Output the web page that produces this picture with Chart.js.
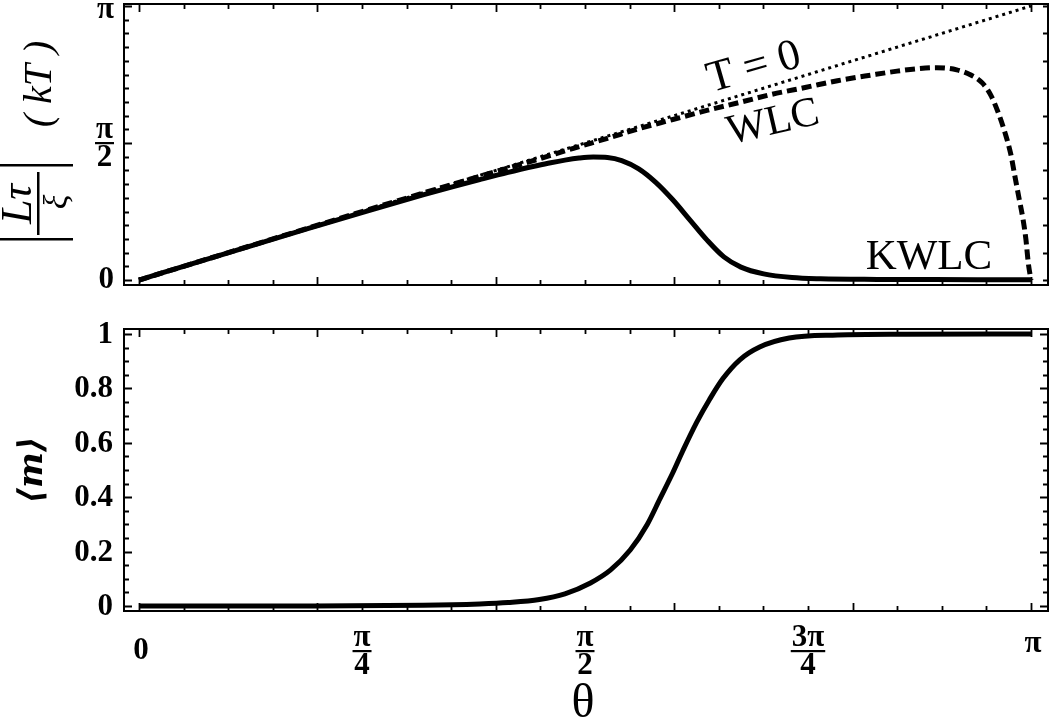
<!DOCTYPE html>
<html><head><meta charset="utf-8">
<script src="https://cdn.jsdelivr.net/npm/chart.js@4.4.1/dist/chart.umd.min.js"></script>
<style>
html,body{margin:0;padding:0;background:#fff;width:1050px;height:724px;overflow:hidden}
canvas{position:absolute;left:0;top:0}
</style></head><body>
<canvas id="topChart" width="1050" height="724"></canvas>
<canvas id="botChart" width="1050" height="724"></canvas>
<script>
const PI = Math.PI;
// ---- data ----
const tzeroTheta = [0, 3.1416];
const tzeroValue = [0, 3.1416];
const wlcTheta = [0, 0.4, 0.8, 1.0, 1.2, 1.4, 1.53, 1.65, 1.76, 1.88, 2.0, 2.12, 2.23, 2.35, 2.46, 2.58, 2.67, 2.75, 2.81, 2.88, 2.93, 2.97, 3.0, 3.025, 3.05, 3.07, 3.085, 3.1, 3.114, 3.124, 3.132, 3.1416];
const wlcValue = [0, 0.4, 0.799, 0.996, 1.19, 1.38, 1.51, 1.625, 1.735, 1.84, 1.945, 2.04, 2.13, 2.21, 2.285, 2.35, 2.395, 2.425, 2.435, 2.41, 2.35, 2.26, 2.12, 1.93, 1.69, 1.45, 1.19, 0.93, 0.69, 0.46, 0.2, 0];
const kwlcTheta = [0, 0.2, 0.4, 0.6, 0.8, 1.0, 1.1, 1.2, 1.3, 1.4, 1.45, 1.5, 1.55, 1.6, 1.65, 1.7, 1.76, 1.82, 1.88, 1.94, 2.0, 2.06, 2.12, 2.2, 2.3, 2.4, 2.6, 2.8, 3.0, 3.1416];
const kwlcValue = [0, 0.2, 0.398, 0.594, 0.788, 0.976, 1.066, 1.152, 1.235, 1.31, 1.345, 1.375, 1.398, 1.41, 1.405, 1.37, 1.275, 1.12, 0.92, 0.69, 0.46, 0.265, 0.148, 0.07, 0.028, 0.014, 0.007, 0.005, 0.004, 0.004];
const mTheta = [0, 0.5, 1.0, 1.2, 1.3, 1.41, 1.5, 1.59, 1.66, 1.73, 1.79, 1.835, 1.88, 1.915, 1.964, 2.01, 2.056, 2.116, 2.186, 2.29, 2.46, 2.7, 3.1416];
const mValue = [0, 0.0005, 0.003, 0.008, 0.013, 0.024, 0.045, 0.085, 0.132, 0.206, 0.3, 0.395, 0.49, 0.57, 0.675, 0.76, 0.835, 0.905, 0.952, 0.985, 0.996, 0.999, 1.0];

const xTickValues = [0, PI/4, PI/2, 3*PI/4, PI];
const xTickLabels = ['0', 'π/4', 'π/2', '3π/4', 'π'];
const topYTickValues = [0, PI/2, PI];
const topYTickLabels = ['0', 'π/2', 'π'];
const botYTickValues = [0, 0.2, 0.4, 0.6, 0.8, 1];
const botYTickLabels = ['0', '0.2', '0.4', '0.6', '0.8', '1'];
const seriesNames = ['T = 0', 'WLC', 'KWLC'];

const pts = (xs, ys) => xs.map((x, i) => ({x, y: ys[i]}));
const SERIF = '"Liberation Serif", "DejaVu Serif", serif';
const TICKFONT = 'bold 31px ' + SERIF;

function drawLabel(ctx, text, cx, cy, align, off) {
  ctx.fillStyle = '#000';
  ctx.textBaseline = 'middle';
  if (text.includes('/')) {
    const [n, d] = text.split('/');
    const w = Math.max(ctx.measureText(n).width, ctx.measureText(d).width);
    let c = cx;
    if (align === 'right') c = cx - w / 2;
    ctx.textAlign = 'center';
    ctx.fillText(n, c, cy - off);
    ctx.fillText(d, c, cy + off + 2);
    ctx.fillRect(c - w / 2 - 1, cy - 1, w + 2, 2.2);
  } else {
    ctx.textAlign = align;
    ctx.fillText(text, cx, cy);
  }
}
function rotText(ctx, text, cx, cy, ang, font) {
  ctx.save();
  ctx.translate(cx, cy); ctx.rotate(ang);
  ctx.font = font; ctx.fillStyle = '#000';
  ctx.textAlign = 'center'; ctx.textBaseline = 'middle';
  ctx.fillText(text, 0, 0);
  ctx.restore();
}
function frameAndTicks(chart, xT, yL, yR) {
  const {ctx, chartArea: a, scales: {x, y}} = chart;
  ctx.save();
  ctx.strokeStyle = '#000';
  ctx.lineWidth = 2;
  ctx.strokeRect(a.left, a.top, a.right - a.left, a.bottom - a.top);
  ctx.lineWidth = 1.8;
  ctx.beginPath();
  xT.forEach(t => {
    const p = Math.round(x.getPixelForValue(t.v)) + 0.5;
    ctx.moveTo(p, a.bottom); ctx.lineTo(p, a.bottom - t.len);
    ctx.moveTo(p, a.top); ctx.lineTo(p, a.top + t.len);
  });
  yL.forEach(t => {
    const p = Math.round(y.getPixelForValue(t.v)) + 0.5;
    ctx.moveTo(a.left, p); ctx.lineTo(a.left + t.len, p);
  });
  yR.forEach(t => {
    const p = Math.round(y.getPixelForValue(t.v)) + 0.5;
    ctx.moveTo(a.right, p); ctx.lineTo(a.right - t.len, p);
  });
  ctx.stroke();
  ctx.restore();
}
const xTicks = [];
for (let i = 0; i <= 20; i++) xTicks.push({v: i * PI / 20, len: i % 4 === 0 ? 8 : 5});

const lineDs = (label, data, extra) => Object.assign({
  label, data, borderColor: '#000', backgroundColor: '#000', pointRadius: 0,
  fill: false, cubicInterpolationMode: 'monotone', borderCapStyle: 'butt'
}, extra);

const baseOpts = (ymin, ymax, padTop, xHeight) => ({
  responsive: false, animation: false, devicePixelRatio: 1,
  layout: {padding: {top: padTop, right: 2, left: 0, bottom: 0}},
  plugins: {legend: {display: false}, tooltip: {enabled: false}},
  events: [],
  scales: {
    x: {type: 'linear', min: -0.053, max: PI + 0.06,
        ticks: {display: false}, grid: {display: false}, border: {display: false},
        afterFit: s => { s.height = xHeight; }},
    y: {type: 'linear', min: ymin, max: ymax,
        ticks: {display: false}, grid: {display: false}, border: {display: false},
        afterFit: s => { s.width = 124; }}
  }
});

// ---- top chart ----
const topYL = [], topYR = [];
for (let i = 0; i <= 20; i++) topYL.push({v: i * PI / 20, len: i % 10 === 0 ? 8 : 5});
for (let i = 0; i <= 10; i++) topYR.push({v: i * PI / 10, len: 5});

new Chart(document.getElementById('topChart'), {
  type: 'line',
  data: {datasets: [
    lineDs(seriesNames[0], pts(tzeroTheta, tzeroValue), {borderWidth: 3, borderDash: [3, 4]}),
    lineDs(seriesNames[1], pts(wlcTheta, wlcValue), {borderWidth: 5, borderDash: [10, 5]}),
    lineDs(seriesNames[2], pts(kwlcTheta, kwlcValue), {borderWidth: 5})
  ]},
  options: baseOpts(-0.057, PI + 0.023, 4, 724 - 285),
  plugins: [{
    id: 'topDeco',
    afterDatasetsDraw(chart) {
      const ctx = chart.ctx, y = chart.scales.y;
      frameAndTicks(chart, xTicks, topYL, topYR);
      ctx.save();
      ctx.font = TICKFONT;
      topYTickValues.forEach((v, i) => {
        const py = y.getPixelForValue(v);
        const lbl = topYTickLabels[i];
        if (lbl.includes('/')) drawLabel(ctx, lbl, 113, py, 'right', 13);
        else drawLabel(ctx, lbl, 114, py + (i === 2 ? 4 : 0), 'right', 13);
      });
      // series labels
      rotText(ctx, seriesNames[0], 754, 68, -16 * PI / 180, '44px ' + SERIF);
      rotText(ctx, seriesNames[1], 773, 123, -13 * PI / 180, '42px ' + SERIF);
      rotText(ctx, seriesNames[2], 929, 258, 0, '43px ' + SERIF);
      // y axis title |Lτ/ξ| (kT)
      ctx.fillStyle = '#000';
      ctx.fillRect(0, 164, 73, 2.5);
      ctx.fillRect(0, 238, 73, 2.5);
      ctx.fillRect(37, 172, 2.5, 63);
      rotText(ctx, 'Lτ', 19, 204, -PI / 2, 'italic 44px ' + SERIF);
      rotText(ctx, 'ξ', 58, 202, -PI / 2, 'italic 34px ' + SERIF);
      rotText(ctx, '( kT )', 40, 84, -PI / 2, 'italic 40px ' + SERIF);
      ctx.restore();
    }
  }]
});

// ---- bottom chart ----
const botYL = [], botYR = [];
for (let i = 0; i <= 20; i++) { botYL.push({v: i * 0.05, len: i % 4 === 0 ? 8 : 5}); botYR.push({v: i * 0.05, len: i % 4 === 0 ? 8 : 5}); }

new Chart(document.getElementById('botChart'), {
  type: 'line',
  data: {datasets: [
    lineDs('<m>', pts(mTheta, mValue), {borderWidth: 5})
  ]},
  options: baseOpts(-0.018, 1.018, 329, 724 - 611),
  plugins: [{
    id: 'botDeco',
    afterDatasetsDraw(chart) {
      const ctx = chart.ctx, x = chart.scales.x, y = chart.scales.y;
      frameAndTicks(chart, xTicks, botYL, botYR);
      ctx.save();
      ctx.font = TICKFONT;
      botYTickValues.forEach((v, i) => {
        drawLabel(ctx, botYTickLabels[i], 113, y.getPixelForValue(v) + 1, 'right', 12);
      });
      xTickValues.forEach((v, i) => {
        const px = x.getPixelForValue(v);
        const lbl = xTickLabels[i];
        if (lbl.includes('/')) drawLabel(ctx, lbl, px, 651, 'center', 13);
        else drawLabel(ctx, lbl, px + 2, i === 4 ? 644 : 651, 'center', 13);
      });
      rotText(ctx, 'θ', 583, 704, 0, '48px ' + SERIF);
      rotText(ctx, '⟨m⟩', 33, 470, -PI / 2, 'bold italic 34px "DejaVu Serif", serif');
      ctx.restore();
    }
  }]
});
</script>
</body></html>
